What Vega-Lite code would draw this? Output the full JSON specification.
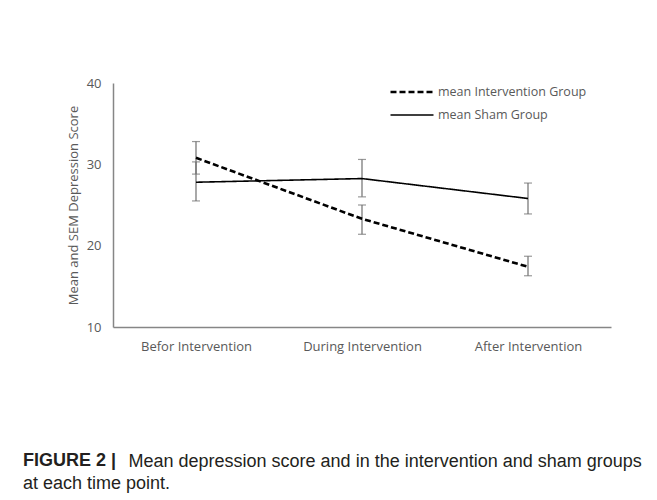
{
  "$schema": "https://vega.github.io/schema/vega-lite/v6.json",
  "width": 498,
  "height": 244,
  "autosize": {"type": "none"},
  "padding": {"left": 113, "top": 83, "right": 46, "bottom": 173},
  "background": "white",
  "data": {
    "values": [
      {"group": "mean Intervention Group", "time": "Befor Intervention", "mean": 30.8, "lo": 28.8, "hi": 32.8},
      {"group": "mean Intervention Group", "time": "During Intervention", "mean": 23.3, "lo": 21.4, "hi": 25.0},
      {"group": "mean Intervention Group", "time": "After Intervention", "mean": 17.4, "lo": 16.3, "hi": 18.7},
      {"group": "mean Sham Group", "time": "Befor Intervention", "mean": 27.8, "lo": 25.5, "hi": 30.3},
      {"group": "mean Sham Group", "time": "During Intervention", "mean": 28.25, "lo": 26.0, "hi": 30.6},
      {"group": "mean Sham Group", "time": "After Intervention", "mean": 25.8, "lo": 23.9, "hi": 27.7}
    ]
  },
  "title": {
    "text": "FIGURE 2 |",
    "subtitle": "at each time point.",
    "orient": "bottom",
    "anchor": "start",
    "frame": "group",
    "offset": -18.5,
    "dx": -90,
    "font": "Liberation Sans",
    "fontSize": 18,
    "fontWeight": "bold",
    "color": "#231f20",
    "subtitleFont": "Liberation Sans",
    "subtitleFontSize": 18,
    "subtitleFontWeight": "normal",
    "subtitleColor": "#231f20",
    "subtitlePadding": 4.5
  },
  "encoding": {
    "x": {
      "field": "time",
      "type": "nominal",
      "sort": ["Befor Intervention", "During Intervention", "After Intervention"],
      "scale": {"type": "point", "padding": 0.5},
      "axis": {
        "title": "Mean depression score and in the intervention and sham groups",
        "titleX": 15,
        "titleY": 139.7,
        "titleAnchor": "start",
        "titleAlign": "left",
        "titleBaseline": "alphabetic",
        "titleFont": "Liberation Sans",
        "titleFontSize": 18,
        "titleFontWeight": "normal",
        "titleColor": "#231f20",
        "labelAngle": 0,
        "labelAlign": "center",
        "labelPadding": 13,
        "labelFontSize": 13
      }
    }
  },
  "layer": [
    {
      "mark": {"type": "errorbar", "ticks": {"size": 8, "color": "#6f6f6f", "thickness": 1.2}, "rule": {"color": "#6f6f6f", "strokeWidth": 1.2}},
      "encoding": {
        "y": {
          "field": "lo",
          "type": "quantitative",
          "scale": {"domain": [10, 40]},
          "axis": {
            "values": [10, 20, 30, 40],
            "title": "Mean and SEM Depression Score",
            "titleX": -40,
            "titleY": 122,
            "titleBaseline": "middle",
            "titleAlign": "center",
            "titleFontSize": 13,
            "titleFontWeight": "normal",
            "labelPadding": 12,
            "labelFontSize": 13
          }
        },
        "y2": {"field": "hi"},
        "detail": {"field": "group"}
      }
    },
    {
      "mark": {"type": "line", "color": "black"},
      "encoding": {
        "y": {
          "field": "mean",
          "type": "quantitative",
          "scale": {"domain": [10, 40]},
          "axis": {
            "values": [10, 20, 30, 40],
            "title": "Mean and SEM Depression Score",
            "titleX": -40,
            "titleY": 122,
            "titleBaseline": "middle",
            "titleAlign": "center",
            "titleFontSize": 13,
            "titleFontWeight": "normal",
            "labelPadding": 12,
            "labelFontSize": 13
          }
        },
        "strokeDash": {
          "field": "group",
          "type": "nominal",
          "scale": {"domain": ["mean Intervention Group", "mean Sham Group"], "range": [[6, 3], [1, 0]]},
          "legend": {"title": null}
        },
        "strokeWidth": {
          "field": "group",
          "type": "nominal",
          "scale": {"domain": ["mean Intervention Group", "mean Sham Group"], "range": [2.6, 1.6]},
          "legend": {"title": null}
        }
      }
    }
  ],
  "config": {
    "view": {"stroke": null},
    "font": "Open Sans",
    "axis": {
      "grid": false,
      "ticks": false,
      "tickSize": 0,
      "domainColor": "#868686",
      "domainWidth": 1.5,
      "labelColor": "#595959",
      "titleColor": "#595959",
      "labelFont": "Open Sans",
      "titleFont": "Open Sans"
    },
    "legend": {
      "orient": "none",
      "legendX": 276,
      "legendY": 3,
      "padding": 0,
      "symbolType": "stroke",
      "symbolSize": 1849,
      "symbolStrokeColor": "black",
      "clipHeight": 12,
      "rowPadding": 10,
      "labelOffset": 3,
      "labelFont": "Open Sans",
      "labelFontSize": 12.5,
      "labelColor": "#595959",
      "labelLimit": 300
    }
  }
}
